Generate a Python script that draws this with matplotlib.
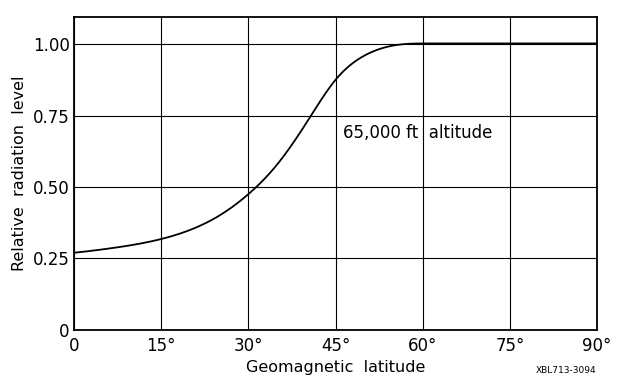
import numpy as np
import matplotlib
matplotlib.use("Agg")
import matplotlib.pyplot as plt

# Curve (latitude in degrees, relative level)
latitude = [0, 5, 10, 15, 20, 25, 30, 35, 40, 45, 50, 55, 60, 70, 80, 90]
radiation = [0.270, 0.282, 0.297, 0.318, 0.350, 0.400, 0.475, 0.580, 0.725,
             0.875, 0.960, 0.995, 1.002, 1.002, 1.002, 1.002]

x_ticks = [0, 15, 30, 45, 60, 75, 90]
x_labels = ["0", "15°", "30°", "45°", "60°", "75°", "90°"]
y_ticks = [0, 0.25, 0.50, 0.75, 1.00]
y_labels = ["0", "0.25", "0.50", "0.75", "1.00"]

plt.rcParams['font.family'] = ['DejaVu Sans']


def clamped_spline(xs, ys, xf, d0, dn):
    # plain cubic spline with end slopes given, only for a smooth drawn line
    n = len(xs)
    h = np.diff(xs)
    A = np.zeros((n, n))
    b = np.zeros(n)
    A[0, 0], A[0, 1] = 2 * h[0], h[0]
    b[0] = 6 * ((ys[1] - ys[0]) / h[0] - d0)
    A[-1, -2], A[-1, -1] = h[-1], 2 * h[-1]
    b[-1] = 6 * (dn - (ys[-1] - ys[-2]) / h[-1])
    for i in range(1, n - 1):
        A[i, i - 1] = h[i - 1]
        A[i, i] = 2 * (h[i - 1] + h[i])
        A[i, i + 1] = h[i]
        b[i] = 6 * ((ys[i + 1] - ys[i]) / h[i] - (ys[i] - ys[i - 1]) / h[i - 1])
    M = np.linalg.solve(A, b)
    idx = np.clip(np.searchsorted(xs, xf, side='right') - 1, 0, n - 2)
    x0, x1 = xs[idx], xs[idx + 1]
    hh = h[idx]
    return (M[idx] * (x1 - xf) ** 3 / (6 * hh) + M[idx + 1] * (xf - x0) ** 3 / (6 * hh)
            + (ys[idx] / hh - M[idx] * hh / 6) * (x1 - xf)
            + (ys[idx + 1] / hh - M[idx + 1] * hh / 6) * (xf - x0))


fig = plt.figure(figsize=(6.24, 3.81), dpi=100)
ax = fig.add_axes([0.1186, 0.134, 0.8384, 0.821])

xs = np.array(latitude, dtype=float)
ys = np.array(radiation, dtype=float)
rise = xs <= 60
xf = np.linspace(0, 60, 400)
yf = clamped_spline(xs[rise], ys[rise], xf, 0.002, 0.0)
ax.plot(np.concatenate([xf, xs[~rise]]), np.concatenate([yf, ys[~rise]]),
        color='black', linewidth=1.3, zorder=3)

ax.set_xlim(0, 90)
ax.set_ylim(0, 1.094)
ax.set_xticks(x_ticks)
ax.set_xticklabels(x_labels, fontsize=12)
ax.set_yticks(y_ticks)
ax.set_yticklabels(y_labels, fontsize=12)
ax.tick_params(length=0, pad=3)
ax.tick_params(axis='x', pad=5)
ax.grid(True, color='black', linewidth=0.8)

for spine in ax.spines.values():
    spine.set_linewidth(1.3)

ax.set_xlabel("Geomagnetic  latitude", fontsize=11.5, labelpad=4)
ax.set_ylabel("Relative  radiation  level", fontsize=11.5, labelpad=4)

ax.text(46.3, 0.69, "65,000 ft  altitude", fontsize=12, va='center', ha='left',
        color='black', zorder=4)

fig.text(0.955, 0.015, "XBL713-3094", fontsize=6.5, ha='right', va='bottom')

fig.savefig("out.png", dpi=100)
